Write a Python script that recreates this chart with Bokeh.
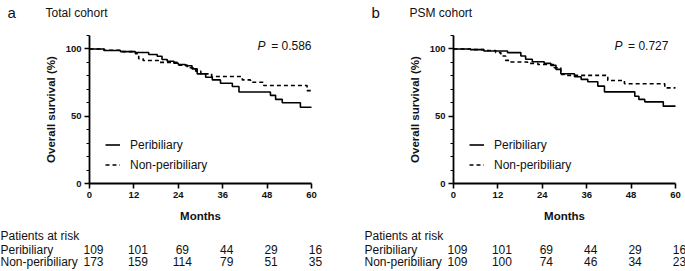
from bokeh.plotting import figure
from bokeh.models import Range1d, FixedTicker, Label, Legend, LegendItem, LinearAxis
from bokeh.layouts import row
from bokeh.core.properties import value
from bokeh.embed import file_html
from bokeh.resources import INLINE

# ---------------- data ----------------
months_ticks = [0, 12, 24, 36, 48, 60]
y_ticks = [0, 50, 100]
y_minor = [10, 20, 30, 40, 60, 70, 80, 90, 110]

# Panel a: Total cohort
a_peri_t = [0, 3.9, 8.4, 12.4, 16.0, 18.3, 19.6, 21.0, 22.8, 24.0, 25.9, 27.7, 29.1,
            31.4, 33.2, 35.4, 38.6, 40.4, 48.9, 50.3, 52.1, 57.0, 60]
a_peri_s = [100, 98.8, 98.0, 97.4, 95.9, 94.6, 92.2, 90.9, 89.4, 88.5, 87.5, 85.2, 81.5,
            79.0, 77.0, 74.5, 72.1, 68.0, 65.5, 62.5, 60.0, 56.7, 56.7]
a_non_t = [0, 4.0, 9.0, 12.4, 13.3, 14.5, 19.0, 23.7, 26.4, 28.7, 30.1, 33.0, 41.3,
           43.5, 47.1, 58.8, 60]
a_non_s = [100, 99.0, 98.0, 96.5, 92.7, 91.4, 90.0, 88.0, 86.0, 83.5, 81.5, 79.5, 77.0,
           75.3, 72.8, 69.0, 69.0]
a_p = "= 0.586"
a_risk_peri = [109, 101, 69, 44, 29, 16]
a_risk_non = [173, 159, 114, 79, 51, 35]

# Panel b: PSM cohort
b_peri_t = [0, 4.6, 8.2, 14.6, 18.2, 19.5, 21.3, 24.5, 26.3, 27.7, 29.0, 32.7, 34.5,
            36.3, 39.0, 40.8, 49.0, 50.1, 51.7, 56.7, 60]
b_peri_s = [100, 99.5, 98.5, 97.3, 94.8, 92.3, 90.5, 89.3, 87.8, 84.8, 81.6, 79.3, 77.4,
            75.6, 72.4, 68.1, 64.9, 62.5, 60.7, 57.5, 57.5]
b_non_t = [0, 4.6, 8.2, 11.4, 12.8, 14.1, 15.5, 20.0, 22.8, 27.2, 29.0, 30.0, 41.7,
           46.2, 57.1, 60]
b_non_s = [100, 99.5, 98.8, 97.3, 94.8, 91.5, 90.3, 89.3, 88.5, 86.0, 81.0, 80.4, 76.6,
           74.1, 71.1, 71.1]
b_p = "= 0.727"
b_risk_peri = [109, 101, 69, 44, 29, 16]
b_risk_non = [109, 100, 74, 46, 34, 23]

risk_heads = ["Patients at risk", "Peribiliary", "Non-peribiliary"]

FONT = "Liberation Sans"
TXT = "#111111"

H = 271          # canvas height
LEFT = 89        # px from panel edge to y axis
FRAME_W = 222    # px for 60 months
AX_Y = 183       # px from top to the x axis (0 %)
TOP_Y = 35       # px from top to 110 %
KX = FRAME_W / 60.0
KY = (AX_Y - TOP_Y) / 110.0


def py(pix):
    """data y for a pixel row measured from the top"""
    return (AX_Y - pix) / KY


def panel(letter, title, pt, ps, nt, ns, ptxt, p_x, risk_p, risk_n, width):
    p = figure(frame_width=width, frame_height=H,
               min_border=0, min_border_left=0, min_border_right=0,
               min_border_top=0, min_border_bottom=0,
               x_range=Range1d(-LEFT / KX, (width - LEFT) / KX),
               y_range=Range1d(py(H), py(0)),
               x_axis_location=None, y_axis_location=None,
               output_backend="svg", toolbar_location=None)
    p.outline_line_color = None
    p.xgrid.visible = False
    p.ygrid.visible = False

    r1 = p.step(pt, ps, mode="after", line_color="black", line_width=1.6)
    r2 = p.step(nt, ns, mode="after", line_color="black", line_width=1.6,
                line_dash="4 3")

    xa = LinearAxis(fixed_location=0, bounds=(0, 60),
                    ticker=FixedTicker(ticks=months_ticks, minor_ticks=[]),
                    axis_label="Months")
    ya = LinearAxis(fixed_location=0, bounds=(0, 110),
                    ticker=FixedTicker(ticks=y_ticks, minor_ticks=y_minor),
                    axis_label="Overall survival (%)")
    for ax in (xa, ya):
        ax.axis_line_width = 1.8
        ax.axis_line_color = "black"
        ax.major_tick_line_width = 1.6
        ax.major_tick_line_color = "black"
        ax.major_tick_out = 5
        ax.major_tick_in = 0
        ax.minor_tick_out = 3
        ax.minor_tick_in = 0
        ax.minor_tick_line_width = 1.2
        ax.minor_tick_line_color = "black"
        ax.major_label_text_font = FONT
        ax.major_label_text_font_size = "9.5px"
        ax.major_label_text_font_style = "bold"
        ax.major_label_text_color = TXT
        ax.major_label_standoff = 3
        ax.axis_label_text_font = FONT
        ax.axis_label_text_font_size = "11.5px"
        ax.axis_label_text_font_style = "bold"
        ax.axis_label_text_color = TXT
    xa.axis_label_standoff = 9
    ya.axis_label_standoff = 6
    p.add_layout(xa, "below")
    p.add_layout(ya, "left")

    legend = Legend(items=[LegendItem(label="Peribiliary", renderers=[r1]),
                           LegendItem(label="Non-peribiliary", renderers=[r2])],
                    location=(LEFT + 16, H - AX_Y + 9), border_line_color=None,
                    background_fill_alpha=0, padding=0, margin=0, spacing=1,
                    glyph_width=15, glyph_height=19, label_height=19,
                    label_standoff=10, label_text_font=FONT,
                    label_text_font_size="12px", label_text_color=TXT)
    p.add_layout(legend)

    # P value
    p.add_layout(Label(x=p_x, y=102.5, text="P", text_font_style="italic",
                       text_align="right", text_baseline="middle", x_offset=-46,
                       text_font=FONT, text_font_size="12px", text_color=TXT))
    p.add_layout(Label(x=p_x, y=102.5, text=ptxt, text_align="right",
                       text_baseline="middle", text_font=FONT,
                       text_font_size="12px", text_color=TXT))

    # panel letter and title
    p.add_layout(Label(x=0, y=py(12), x_offset=-82, text=letter, text_baseline="middle",
                       text_font=FONT, text_font_size="15px", text_color=TXT))
    p.add_layout(Label(x=0, y=py(12), x_offset=-44, text=title, text_baseline="middle",
                       text_font=FONT, text_font_size="12px", text_color=TXT))

    # risk table
    rows_y = [py(235), py(249), py(261)]
    p.text(x=[0, 0, 0], y=rows_y, text=risk_heads, x_offset=-LEFT,
           text_baseline="middle", text_font=value(FONT), text_font_size="12px",
           text_color=TXT)
    for vals, yy in ((risk_p, rows_y[1]), (risk_n, rows_y[2])):
        p.text(x=months_ticks, y=[yy] * len(vals), text=[str(v) for v in vals],
               x_offset=4, text_align="center", text_baseline="middle",
               text_font=value(FONT), text_font_size="12px", text_color=TXT)
    return p


pa = panel("a", "Total cohort", a_peri_t, a_peri_s, a_non_t, a_non_s, a_p, 60,
           a_risk_peri, a_risk_non, 364)
pb = panel("b", "PSM cohort", b_peri_t, b_peri_s, b_non_t, b_non_s, b_p, 58.1,
           b_risk_peri, b_risk_non, 321)

layout = row(pa, pb, spacing=0)
open("out.html", "w").write(file_html(layout, INLINE))
